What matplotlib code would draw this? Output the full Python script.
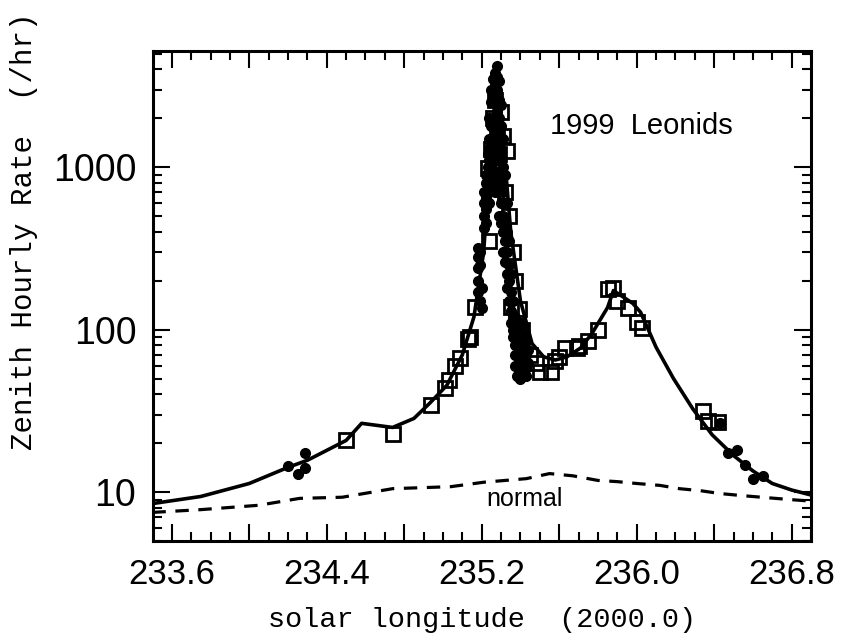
import matplotlib.pyplot as plt
from matplotlib.ticker import MultipleLocator, FixedLocator, FuncFormatter, LogLocator, NullFormatter

# model curve (solid)
model_x = [233.50, 233.75, 234.00, 234.20, 234.30, 234.50, 234.58, 234.74, 234.85, 234.93,
           235.02, 235.10, 235.16, 235.21, 235.25, 235.28, 235.31, 235.35, 235.40, 235.46,
           235.52, 235.58, 235.64, 235.71, 235.77, 235.85, 235.88, 235.98, 236.02, 236.06,
           236.10, 236.19, 236.29, 236.39, 236.50, 236.60, 236.70, 236.80, 236.90]
model_y = [8.5, 9.4, 11.3, 14.2, 15.7, 20.8, 26.5, 25.0, 28.4, 35.1,
           45.4, 70, 120, 300, 1500, 3500, 1500, 400, 150, 82,
           68, 65, 68, 77, 95, 137, 174, 145, 128, 100,
           78, 50, 32.5, 22.5, 16.8, 13.5, 11.3, 10.3, 9.6]

# normal activity (dashed)
normal_x = [233.50, 233.75, 234.05, 234.26, 234.48, 234.74, 235.04, 235.21, 235.43, 235.55,
            235.67, 235.80, 235.90, 236.00, 236.12, 236.22, 236.33, 236.43, 236.55, 236.79, 236.90]
normal_y = [7.5, 7.8, 8.3, 9.15, 9.3, 10.5, 10.8, 11.5, 12.1, 13.0,
            12.6, 11.8, 11.6, 11.3, 11.0, 10.5, 10.2, 9.8, 9.5, 9.0, 8.8]

# open squares
sq_x = [234.50, 234.74, 234.94, 235.01, 235.03, 235.06, 235.09, 235.13, 235.14, 235.165,
        235.23, 235.24, 235.25, 235.26, 235.27, 235.28, 235.29, 235.30, 235.31, 235.32,
        235.33, 235.34, 235.35, 235.36, 235.37, 235.39, 235.41, 235.45, 235.48, 235.50,
        235.56, 235.58, 235.60, 235.63, 235.69, 235.70, 235.75, 235.80, 235.85, 235.88,
        235.90, 235.955, 236.00, 236.03, 236.34, 236.37, 236.42]
sq_y = [20.8, 22.7, 34.2, 44, 49, 60, 67, 88, 90, 137,
        990, 353, 1300, 2000, 2600, 1600, 1200, 2200, 1550, 700,
        1250, 500, 137, 300, 200, 133, 100, 70, 62, 55,
        55, 64, 67.5, 76.6, 76.6, 79, 85, 99, 179, 181,
        151, 135, 111, 103, 31.5, 27.5, 27.0]

# filled dots
dot_x = [234.20, 234.25, 234.29, 234.29,
         235.18, 235.18, 235.18, 235.18, 235.18, 235.19, 235.19, 235.19, 235.20, 235.20,
         235.21, 235.21, 235.21, 235.21, 235.22, 235.22, 235.22, 235.22, 235.22,
         235.23, 235.23, 235.23, 235.24, 235.24, 235.24, 235.24, 235.24, 235.24,
         235.25, 235.25, 235.25, 235.25, 235.25, 235.25,
         235.26, 235.26, 235.26, 235.26, 235.26, 235.26, 235.26,
         235.27, 235.27, 235.27, 235.27, 235.27, 235.27, 235.27,
         235.28, 235.28, 235.28, 235.28, 235.28, 235.28,
         235.29, 235.29, 235.29, 235.29, 235.29, 235.29, 235.29,
         235.30, 235.30, 235.30, 235.30, 235.30, 235.30,
         235.31, 235.31, 235.31, 235.31, 235.31, 235.31,
         235.32, 235.32, 235.32, 235.32, 235.32,
         235.33, 235.33, 235.33, 235.33, 235.33,
         235.34, 235.34, 235.34, 235.34,
         235.35, 235.35, 235.35, 235.35,
         235.36, 235.36, 235.36, 235.36,
         235.37, 235.37, 235.37, 235.37, 235.37,
         235.38, 235.38, 235.38, 235.38, 235.38,
         235.39, 235.39, 235.39, 235.39,
         235.40, 235.40, 235.40, 235.40,
         235.41, 235.41, 235.41, 235.41,
         235.42, 235.42, 235.42,
         235.43, 235.43, 235.43, 235.43,
         235.44, 235.44,
         236.43, 236.47, 236.52, 236.56, 236.60, 236.65]
dot_y = [14.4, 12.9, 17.3, 14.0,
         320, 280, 240, 200, 170, 300, 250, 150, 180, 135,
         420, 500, 600, 700, 450, 550, 650, 800, 900,
         800, 1000, 1200, 1100, 1300, 1500, 2000, 700, 600,
         1800, 2500, 3000, 1400, 1000, 900,
         2000, 2800, 3500, 3000, 1500, 1200, 800,
         3800, 3200, 2500, 1800, 1300, 950, 700,
         4200, 3600, 3000, 2200, 1600, 1100,
         3400, 2600, 2000, 1500, 900, 700, 500,
         2400, 1800, 1200, 800, 600, 450,
         1500, 1000, 700, 500, 400, 300,
         900, 600, 450, 350, 260,
         600, 400, 300, 220, 180,
         350, 250, 200, 150,
         220, 170, 130, 110,
         150, 120, 100, 90,
         120, 95, 80, 70, 60,
         110, 85, 70, 60, 52,
         100, 80, 65, 55,
         90, 75, 60, 50,
         110, 85, 65, 55,
         95, 75, 62,
         85, 70, 58, 52,
         75, 62,
         26.5, 17.5, 18.1, 14.6, 12.0, 12.6]

fig = plt.figure(figsize=(8.42, 6.35), dpi=100)
ax = fig.add_axes([0.1817, 0.148, 0.7815, 0.772])

ax.plot(model_x, model_y, color='black', lw=2.6, zorder=2)
ax.plot(normal_x, normal_y, color='black', lw=2.3, dashes=(4.2, 3.0), zorder=2)
ax.plot(sq_x, sq_y, 's', mfc='none', mec='black', mew=2.0, ms=10, zorder=3)
ax.plot(dot_x, dot_y, 'o', color='black', ms=7, zorder=4)

ax.set_yscale('log')
ax.set_xlim(233.503, 236.90)
ax.set_ylim(5.0, 5200)

# x ticks: long every 0.4, labels every 0.8, short every 0.1
ax.xaxis.set_major_locator(MultipleLocator(0.4))
ax.xaxis.set_minor_locator(MultipleLocator(0.1))
ax.xaxis.set_major_formatter(FuncFormatter(
    lambda v, p: f'{v:.1f}' if round(v / 0.4) % 2 == 0 else ''))

ax.yaxis.set_major_locator(FixedLocator([10, 100, 1000]))
ax.yaxis.set_major_formatter(FuncFormatter(lambda v, p: f'{v:.0f}'))
ax.yaxis.set_minor_locator(LogLocator(base=10, subs=range(2, 10)))
ax.yaxis.set_minor_formatter(NullFormatter())

ax.tick_params(which='both', direction='in', top=True, right=True, width=1.5, color='black')
ax.tick_params(which='major', length=12, pad=12)
ax.tick_params(axis='x', which='major', labelsize=25)
ax.tick_params(axis='y', which='major', labelsize=27)
ax.tick_params(which='minor', length=6.5)
for lab in ax.get_xticklabels() + ax.get_yticklabels():
    lab.set_fontfamily('Liberation Sans')
for s in ax.spines.values():
    s.set_linewidth(2.2)

ax.set_xlabel('solar longitude  (2000.0)', fontfamily='Liberation Mono', fontsize=20.5)
ax.set_ylabel('Zenith Hourly Rate  (/hr)', fontfamily='Liberation Mono', fontsize=21)
ax.xaxis.set_label_coords(0.5, -0.135)
ax.yaxis.set_label_coords(-0.175, 0.632)

ax.text(235.55, 1800, '1999  Leonids', fontfamily='Liberation Sans', fontsize=21, va='center')
ax.text(235.42, 9.1, 'normal', fontfamily='Liberation Sans', fontsize=18, ha='center', va='center')

fig.savefig('out.png', dpi=100)
